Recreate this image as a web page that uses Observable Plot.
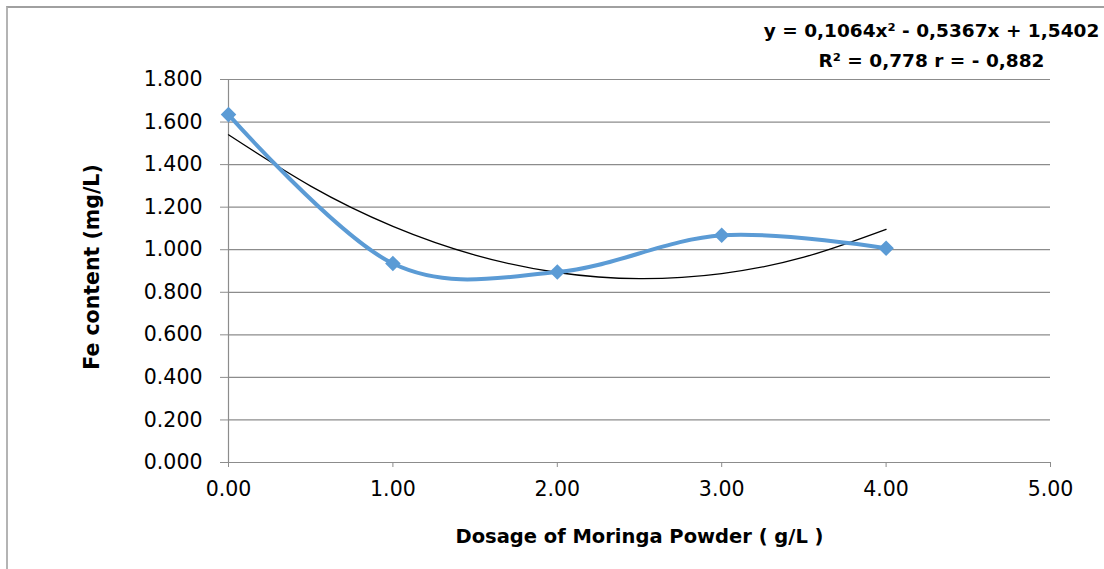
<!DOCTYPE html>
<html><head><meta charset="utf-8">
<script src="https://cdn.jsdelivr.net/npm/d3@7"></script>
<script src="https://cdn.jsdelivr.net/npm/@observablehq/plot@0.6"></script>
<style>
html,body{margin:0;padding:0;background:#fff;overflow:hidden}
#chart{position:absolute;left:0;top:0}
#frame{position:absolute;left:6px;top:6px;width:1200px;height:700px;border-left:2px solid #b4b4b4;border-top:2px solid #a0a0a0;pointer-events:none}
</style></head><body><div id="chart"></div><div id="frame"></div>
<script>
const dosage = [0, 1, 2, 3, 4];
const fe = [1.635, 0.935, 0.895, 1.068, 1.007];
const trendX = [0, 0.5, 1, 1.5, 2, 2.5, 3, 3.5, 4];
const trendY = [1.540, 1.299, 1.110, 0.975, 0.893, 0.864, 0.888, 0.965, 1.096];
const xTicks = [0, 1, 2, 3, 4, 5];
const yTicks = [0, 0.2, 0.4, 0.6, 0.8, 1.0, 1.2, 1.4, 1.6, 1.8];
const equation = ["y = 0,1064x² - 0,5367x + 1,5402", "R² = 0,778 r = - 0,882"];
const xTitle = "Dosage of Moringa Powder ( g/L )";
const yTitle = "Fe content (mg/L)";

const points = dosage.map((d, i) => ({x: d, y: fe[i]}));
const trend = trendX.map((d, i) => ({x: d, y: trendY[i]}));
const gridC = "#8c8c8c";
const tickFont = "DejaVu Sans, sans-serif";

const chart = Plot.plot({
  width: 1104, height: 569,
  marginLeft: 228, marginRight: 54, marginTop: 79, marginBottom: 107,
  style: {fontFamily: tickFont, fontSize: "20.5px", color: "#000", background: "#fff", overflow: "visible"},
  x: {domain: [0, 5], ticks: xTicks},
  y: {domain: [0, 1.8], ticks: yTicks},
  marks: [
    Plot.ruleY(yTicks, {x1: 0, x2: 5, stroke: gridC, strokeWidth: 1.2}),
    Plot.ruleX([0], {y1: 0, y2: 1.8, stroke: gridC, strokeWidth: 1.2}),
    Plot.axisY({ticks: yTicks, tickFormat: d => d.toFixed(3), tickSize: 8, tickPadding: 18, stroke: gridC, label: null, fontSize: 20.5}),
    Plot.axisX({ticks: xTicks, tickFormat: d => d.toFixed(2), tickSize: 5, tickPadding: 14, stroke: gridC, label: null, fontSize: 20.5}),
    Plot.line(trend, {x: "x", y: "y", curve: "natural", stroke: "#000", strokeWidth: 1.3}),
    Plot.line(points, {x: "x", y: "y", curve: "cardinal", stroke: "#5B9BD5", strokeWidth: 4}),
    Plot.dot(points, {x: "x", y: "y", symbol: "diamond2", r: 7, fill: "#5B9BD5", stroke: "none"}),
    Plot.text([equation[0]], {frameAnchor: "top-right", dx: -119, dy: -48, text: d => d, textAnchor: "middle", lineAnchor: "middle", fontWeight: "bold", fontSize: 18.5}),
    Plot.text([equation[1]], {frameAnchor: "top-right", dx: -119, dy: -18, text: d => d, textAnchor: "middle", lineAnchor: "middle", fontWeight: "bold", fontSize: 18.5}),
    Plot.text([xTitle], {frameAnchor: "bottom", dy: 74, text: d => d, textAnchor: "middle", lineAnchor: "middle", fontWeight: "bold", fontSize: 19.5}),
    Plot.text([yTitle], {frameAnchor: "left", dx: -136, dy: -4, rotate: -90, text: d => d, textAnchor: "middle", lineAnchor: "middle", fontWeight: "bold", fontSize: 20.5})
  ]
});
document.getElementById("chart").appendChild(chart);
</script></body></html>
